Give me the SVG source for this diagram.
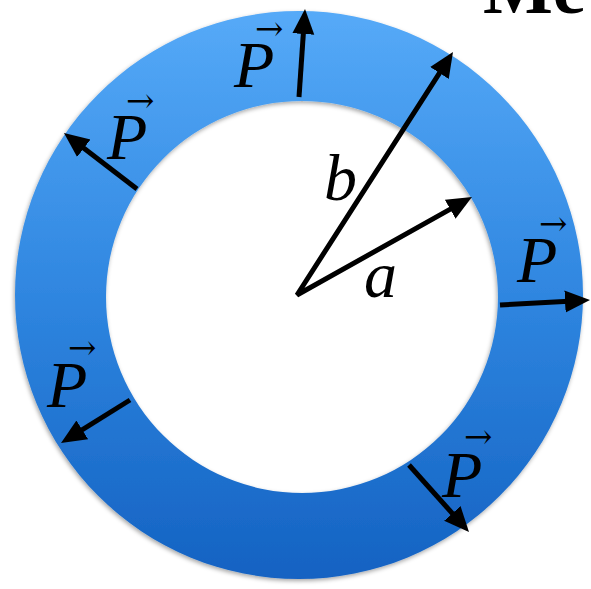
<svg xmlns="http://www.w3.org/2000/svg" width="591" height="589" viewBox="0 0 591 589">
  <defs>
    <linearGradient id="ringGrad" gradientUnits="userSpaceOnUse" x1="0" y1="10" x2="0" y2="580">
      <stop offset="0" stop-color="#56aaf8"/>
      <stop offset="0.5" stop-color="#2f86e0"/>
      <stop offset="1" stop-color="#1462c2"/>
    </linearGradient>
    <filter id="shadow" x="-10%" y="-10%" width="120%" height="120%">
      <feDropShadow dx="-1" dy="2" stdDeviation="2" flood-color="#000" flood-opacity="0.35"/>
    </filter>
    <marker id="head" markerUnits="userSpaceOnUse" markerWidth="26" markerHeight="24" refX="13" refY="11" orient="auto-start-reverse" viewBox="0 0 26 22">
      <path d="M0,0 L25,11 L0,22 z" fill="#000"/>
    </marker>
  </defs>
  <style>
    .vec { stroke: #000; stroke-width: 5; fill: none; marker-end: url(#head); }
    .lbl { font-family: "Liberation Serif", "Times New Roman", serif; font-style: italic; font-size: 66px; fill: #000; }
    .acc { font-family: "DejaVu Serif", serif; font-size: 34px; fill: #000; }
    .title { font-family: "Liberation Serif", "Times New Roman", serif; font-weight: bold; font-size: 74px; fill: #000; }
  </style>

  <g id="title">
    <text class="title" x="483" y="13">Me</text>
  </g>

  <g id="ring">
    <path filter="url(#shadow)" fill="url(#ringGrad)" fill-rule="evenodd"
      d="M15,295 A284,284 0 1,0 583,295 A284,284 0 1,0 15,295 Z M106,297 A196,196 0 1,0 498,297 A196,196 0 1,0 106,297 Z"/>
  </g>

  <g id="connectors">
    <path id="radii" d="M446.5,62.1 L297,295 L461.5,202.9" stroke="#000" stroke-width="5" fill="none" stroke-linejoin="miter" marker-start="url(#head)" marker-end="url(#head)"/>
    <line class="vec" x1="299" y1="97" x2="304.2" y2="21"/>
    <line class="vec" x1="137" y1="189" x2="73.5" y2="140.3"/>
    <line class="vec" x1="500" y1="305" x2="578" y2="300.7"/>
    <line class="vec" x1="130" y1="400" x2="71.2" y2="436.7"/>
    <line class="vec" x1="409" y1="465" x2="461" y2="523.1"/>
  </g>

  <g id="label-b"><text class="lbl" x="324" y="200">b</text></g>
  <g id="label-a"><text class="lbl" x="364" y="297">a</text></g>

  <g id="P-top">
    <text class="lbl" x="234" y="87">P</text>
    <text class="acc" x="255" y="40">→</text>
  </g>
  <g id="P-upper-left">
    <text class="lbl" x="107" y="159">P</text>
    <text class="acc" x="126" y="112">→</text>
  </g>
  <g id="P-right">
    <text class="lbl" x="517" y="282">P</text>
    <text class="acc" x="539" y="235">→</text>
  </g>
  <g id="P-lower-left">
    <text class="lbl" x="47" y="407">P</text>
    <text class="acc" x="68" y="359">→</text>
  </g>
  <g id="P-lower-right">
    <text class="lbl" x="442" y="497">P</text>
    <text class="acc" x="464" y="448">→</text>
  </g>
</svg>
